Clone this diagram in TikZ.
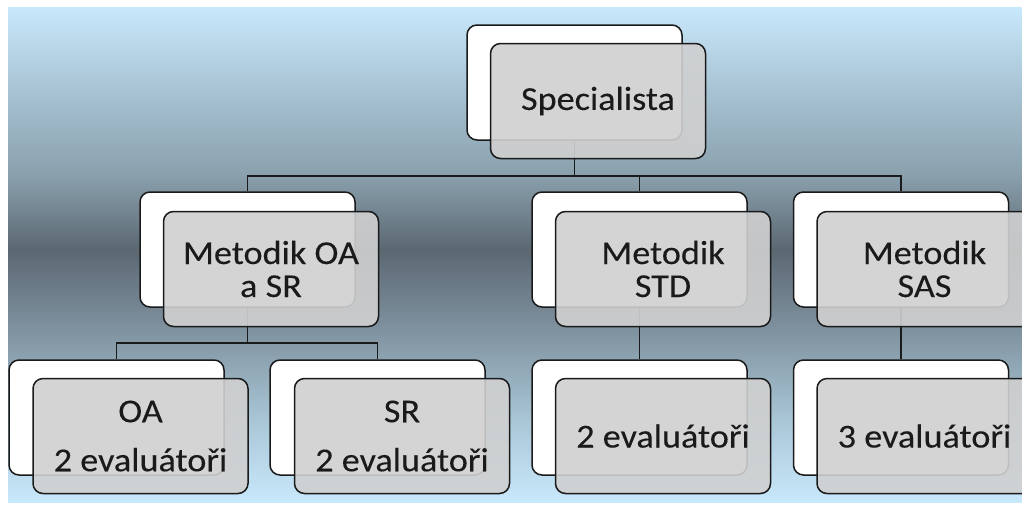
\documentclass[tikz,border=0pt]{standalone}
\usepackage{fontspec}
\setmainfont{Carlito}[FakeStretch=1.08,FakeBold=0.15]
\definecolor{bgA}{HTML}{C8E8FB}
\definecolor{bgB}{HTML}{A4BFCF}
\definecolor{bgC}{HTML}{8AA0AD}
\definecolor{bgD}{HTML}{5B6872}
\definecolor{bgE}{HTML}{7F929F}
\definecolor{bgF}{HTML}{A9C6D6}
\definecolor{frontgray}{HTML}{D0D0D0}
\definecolor{inkc}{HTML}{1A1A1A}
\pgfdeclareverticalshading{bgshade}{100bp}{color(0bp)=(bgA); color(25bp)=(bgA); color(33.3bp)=(bgF); color(42.4bp)=(bgE); color(50.5bp)=(bgD); color(58bp)=(bgC); color(65.6bp)=(bgB); color(75bp)=(bgA); color(100bp)=(bgA)}
\pgfdeclarelayer{backdrop}
\pgfdeclarelayer{lines}
\pgfsetlayers{backdrop,lines,main}
\tikzset{
  backbox/.style={draw=inkc, line width=1.5pt, fill=white, rounded corners=10pt, minimum width=215pt, minimum height=115pt, inner sep=0pt},
  frontbox/.style={draw=inkc, line width=1.5pt, fill=frontgray, fill opacity=0.9, text opacity=1, rounded corners=10pt, minimum width=215pt, minimum height=115pt, inner sep=0pt, align=center, text=inkc, font=\fontsize{33.5}{33}\selectfont},
  conn/.style={draw=inkc, line width=1.8pt}
}
\begin{document}
\begin{tikzpicture}[x=1pt,y=-1pt]
\useasboundingbox (0,0) rectangle (1022,504);
\begin{scope}
\clip (0,0) rectangle (1022,504);
\begin{pgfonlayer}{backdrop}
\shade[shading=bgshade] (8,7) rectangle (1022,502);
\end{pgfonlayer}
% back boxes
\node[backbox] (bS)    at (574.5,82.5) {};
\node[backbox] (bOASR) at (247.5,249.5) {};
\node[backbox] (bSTD)  at (639.5,249.5) {};
\node[backbox] (bSAS)  at (901,249.5) {};
\node[backbox] (bOA)   at (116.5,417.5) {};
\node[backbox] (bSR)   at (377.5,417.5) {};
\node[backbox] (bSTDe) at (639.5,417.5) {};
\node[backbox] (bSASe) at (901,417.5) {};
% front boxes
\node[frontbox] (fS)    at (598,101) {Specialista};
\node[frontbox] (fOASR) at (271,269) {Metodik OA\\a SR};
\node[frontbox] (fSTD)  at (663,269) {Metodik\\STD};
\node[frontbox] (fSAS)  at (924.5,269) {Metodik\\SAS};
\node[frontbox] (fOA)   at (140.5,436) {OA\\[16pt]2 evaluátoři};
\node[frontbox] (fSR)   at (402,436) {SR\\[16pt]2 evaluátoři};
\node[frontbox] (fSTDe) at (663,436) {2 evaluátoři};
\node[frontbox] (fSASe) at (924.5,436) {3 evaluátoři};
% connectors
\coordinate (j1) at (574.5,176);
\coordinate (j2) at (247.5,343);
\begin{pgfonlayer}{lines}
\draw[conn] (bS.south) -- (j1) -| (bOASR.north);
\draw[conn] (j1) -| (bSTD.north);
\draw[conn] (j1) -| (bSAS.north);
\draw[conn] (bOASR.south) -- (j2) -| (bOA.north);
\draw[conn] (j2) -| (bSR.north);
\draw[conn] (bSTD.south) -- (bSTDe.north);
\draw[conn] (bSAS.south) -- (bSASe.north);
\end{pgfonlayer}
\end{scope}
\end{tikzpicture}
\end{document}
